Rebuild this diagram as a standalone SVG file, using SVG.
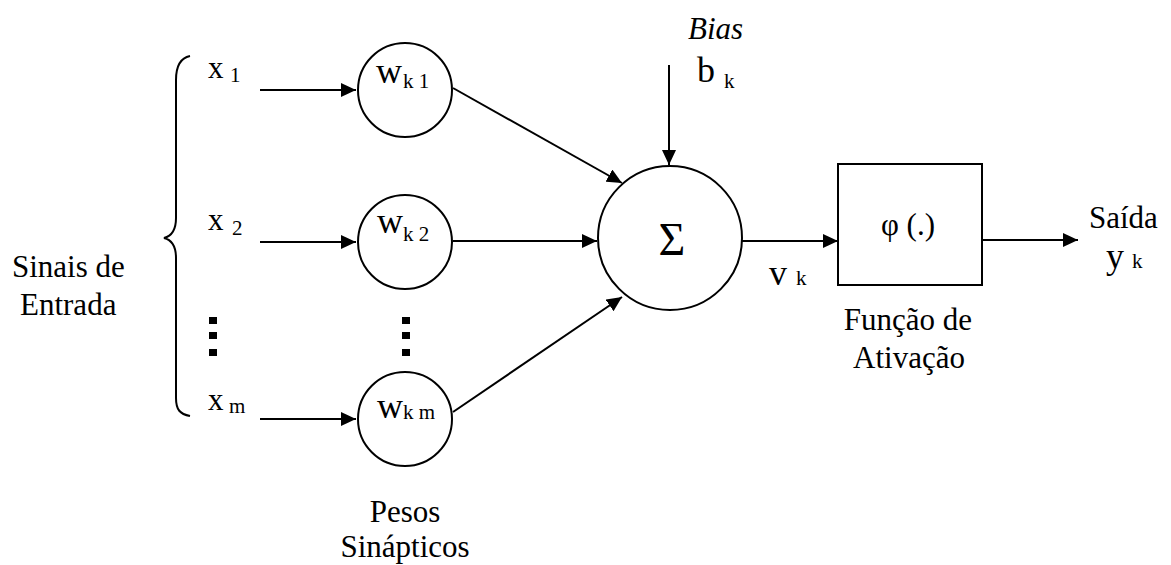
<svg xmlns="http://www.w3.org/2000/svg" width="1171" height="565" viewBox="0 0 1171 565" font-family="'Liberation Serif', 'Times New Roman', serif">
<style>
text{font-family:'Liberation Serif','Times New Roman',serif;fill:#000}
.t{font-size:31px}
.sub{font-size:21px}
.w{font-size:36px}
.node{fill:#fff;stroke:#000;stroke-width:2}
.c{stroke:#000;stroke-width:2;fill:none}
.dot{fill:#000}
</style>
<defs>
<marker id="ah" markerUnits="userSpaceOnUse" markerWidth="16" markerHeight="14" refX="15" refY="7" orient="auto">
<path d="M0,0 L15,7 L0,14 Z" fill="#000"/>
</marker>
</defs>
<rect width="1171" height="565" fill="#fff"/>
<g id="connectors">
<line class="c" x1="260" y1="90" x2="356" y2="90" marker-end="url(#ah)"/>
<line class="c" x1="260" y1="242" x2="356" y2="242" marker-end="url(#ah)"/>
<line class="c" x1="260" y1="419" x2="356" y2="419" marker-end="url(#ah)"/>
<line class="c" x1="453" y1="88" x2="622" y2="183" marker-end="url(#ah)"/>
<line class="c" x1="453" y1="241" x2="597" y2="241" marker-end="url(#ah)"/>
<line class="c" x1="453" y1="412" x2="622" y2="297" marker-end="url(#ah)"/>
<line class="c" x1="669" y1="65" x2="669" y2="165" marker-end="url(#ah)"/>
<line class="c" x1="742" y1="241" x2="838" y2="241" marker-end="url(#ah)"/>
<line class="c" x1="982" y1="240" x2="1078" y2="240" marker-end="url(#ah)"/>
</g>
<g id="brace">
<path class="c" d="M190,56 C180,58 176,66 176,80 L176,218 C176,230 172,236 164,238 C172,240 176,246 176,258 L176,398 C176,410 180,414 190,416"/>
</g>
<g id="inputs">
<text class="t" x="208" y="78">x</text><text class="sub" x="230" y="82">1</text>
<text class="t" x="208" y="230">x</text><text class="sub" x="232" y="235">2</text>
<text class="t" x="208" y="410">x</text><text class="sub" x="229" y="413">m</text>
<rect class="dot" x="209" y="317" width="8" height="7"/>
<rect class="dot" x="209" y="332" width="8" height="7"/>
<rect class="dot" x="209" y="349" width="8" height="7"/>
<text class="t" x="12" y="277">Sinais de</text>
<text class="t" x="20" y="315">Entrada</text>
</g>
<g id="wk1">
<circle class="node" cx="405" cy="90" r="47"/>
<text class="w" x="376" y="83">w</text><text class="sub" x="403" y="88">k 1</text>
</g>
<g id="wk2">
<circle class="node" cx="405" cy="242" r="47"/>
<text class="w" x="377" y="233">w</text><text class="sub" x="403" y="241">k 2</text>
</g>
<g id="wkm">
<circle class="node" cx="405" cy="419" r="47"/>
<text class="w" x="377" y="418">w</text><text class="sub" x="403" y="419">k m</text>
</g>
<g id="weights-label">
<rect class="dot" x="402" y="317" width="8" height="7"/>
<rect class="dot" x="402" y="332" width="8" height="7"/>
<rect class="dot" x="402" y="349" width="8" height="7"/>
<text class="t" x="405" y="522" text-anchor="middle">Pesos</text>
<text class="t" x="405" y="557" text-anchor="middle">Sinápticos</text>
</g>
<g id="bias">
<text class="t" x="688" y="39" font-style="italic">Bias</text>
<text class="w" x="697" y="82">b</text><text class="sub" x="724" y="88">k</text>
</g>
<g id="sum">
<circle class="node" cx="670" cy="238" r="72"/>
<text x="672" y="255" font-size="46" text-anchor="middle">Σ</text>
<text class="w" x="769" y="285">v</text><text class="sub" x="796" y="285">k</text>
</g>
<g id="activation">
<rect class="node" x="838" y="164" width="144" height="121"/>
<text class="t" x="908" y="235" text-anchor="middle">φ (.)</text>
<text class="t" x="908" y="330" text-anchor="middle">Função de</text>
<text class="t" x="909" y="368" text-anchor="middle">Ativação</text>
</g>
<g id="output">
<text class="t" x="1089" y="228">Saída</text>
<text class="w" x="1106" y="268">y</text><text class="sub" x="1132" y="268">k</text>
</g>
</svg>
